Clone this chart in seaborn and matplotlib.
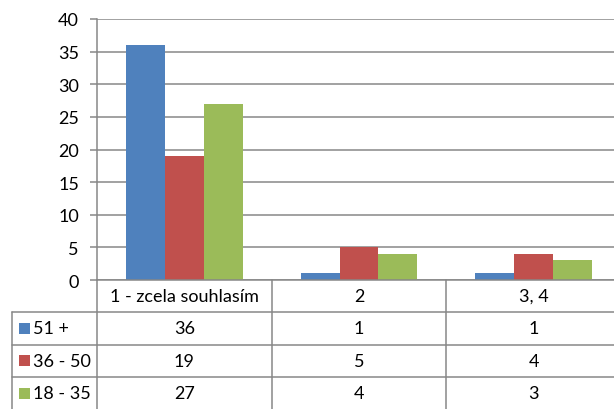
import matplotlib
matplotlib.use("Agg")
import matplotlib.pyplot as plt
from matplotlib.lines import Line2D
from matplotlib.patches import Rectangle
from matplotlib.transforms import blended_transform_factory
import pandas as pd
import seaborn as sns

categories = ["1 - zcela souhlasím", "2", "3, 4"]
series = ["51 +", "36 - 50", "18 - 35"]
values_51 = [36, 1, 1]
values_36 = [19, 5, 4]
values_18 = [27, 4, 3]
colors = ["#4F81BD", "#C0504D", "#9BBB59"]
y_ticks = [0, 5, 10, 15, 20, 25, 30, 35, 40]

sns.set_theme(style="white")
plt.rcParams["font.family"] = ["Lato", "DejaVu Sans"]

W, H = 614, 410
fig = plt.figure(figsize=(W / 100, H / 100), dpi=100)

# plot area in pixel coordinates (the third column runs past the right edge)
left_px, right_px, top_px, zero_px = 97, 621, 20, 281
ax = fig.add_axes([left_px / W, 1 - zero_px / H,
                   (right_px - left_px) / W, (zero_px - top_px) / H])

rows = []
for name, vals in zip(series, [values_51, values_36, values_18]):
    for cat, v in zip(categories, vals):
        rows.append({"kategorie": cat, "věk": name, "počet": v})
df = pd.DataFrame(rows)

sns.barplot(data=df, x="kategorie", y="počet", hue="věk",
            order=categories, hue_order=series, palette=colors,
            width=0.667, gap=0, saturation=1, linewidth=0,
            legend=False, ax=ax)

grid_color = "#878787"
ax.set_xlim(-0.5, len(categories) - 0.5)
ax.set_ylim(0, 40)
ax.set_yticks(y_ticks)
ax.yaxis.grid(True, color=grid_color, linewidth=1.1)
ax.set_axisbelow(True)
ax.set_xticks([])
ax.set_xlabel("")
ax.set_ylabel("")
for side in ["top", "right", "bottom"]:
    ax.spines[side].set_visible(False)
ax.spines["left"].set_color(grid_color)
ax.spines["left"].set_linewidth(1.1)
ax.tick_params(axis="y", which="major", left=True, length=5, width=1.1,
               color=grid_color, labelsize=13, pad=8, labelcolor="#000000")

# data table under the plot
def fy(px):
    return 1 - px / H

def fx(px):
    return px / W

tr = blended_transform_factory(ax.transData, fig.transFigure)
row_edges = [281, 313, 346, 378, 411]
table_left_px = 12
line_kw = dict(color=grid_color, linewidth=1.1)

# horizontal rules
fig.add_artist(Line2D([-0.5, len(categories) - 0.5], [fy(row_edges[0])] * 2,
                      transform=tr, **line_kw))
for y in row_edges[1:-1]:
    fig.add_artist(Line2D([fx(table_left_px), fx(right_px)], [fy(y)] * 2,
                          transform=fig.transFigure, **line_kw))
# vertical rules
for i in range(len(categories)):
    fig.add_artist(Line2D([i - 0.5, i - 0.5], [fy(row_edges[0]), fy(H + 2)],
                          transform=tr, **line_kw))
fig.add_artist(Line2D([fx(table_left_px)] * 2, [fy(row_edges[1]), fy(H + 2)],
                      transform=fig.transFigure, **line_kw))

text_kw = dict(fontsize=13, color="#000000", va="center", ha="center")
mid0 = (row_edges[0] + row_edges[1]) / 2
for i, cat in enumerate(categories):
    fig.text(i, fy(mid0), cat, transform=tr, **text_kw)

for r, (name, vals, col) in enumerate(zip(series, [values_51, values_36, values_18], colors)):
    mid = (row_edges[r + 1] + row_edges[r + 2]) / 2
    fig.add_artist(Rectangle((fx(19), fy(mid + 5)), 11 / W, 11 / H,
                             transform=fig.transFigure, facecolor=col,
                             edgecolor="none"))
    fig.text(fx(33), fy(mid), name, transform=fig.transFigure,
             fontsize=13, color="#000000", va="center", ha="left")
    for i, v in enumerate(vals):
        fig.text(i, fy(mid), str(v), transform=tr, **text_kw)

fig.savefig("out.png", dpi=100, facecolor="white")
